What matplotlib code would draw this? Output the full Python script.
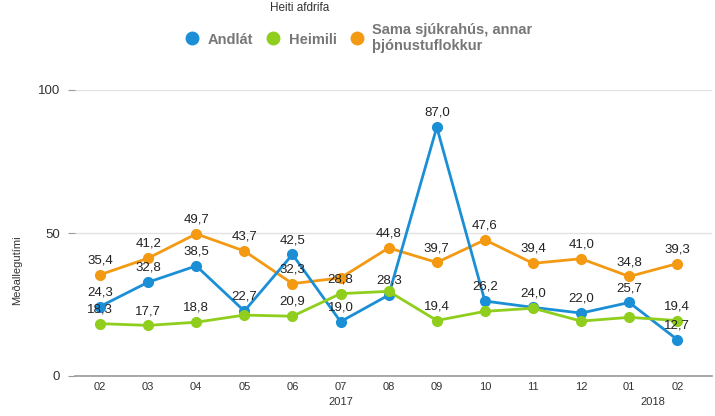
import matplotlib
matplotlib.use("Agg")
import matplotlib.pyplot as plt
from matplotlib.lines import Line2D

plt.rcParams['font.family'] = ['Liberation Sans', 'DejaVu Sans']

months = ["02", "03", "04", "05", "06", "07", "08", "09", "10", "11", "12", "01", "02"]
andlat = [24.3, 32.8, 38.5, 22.7, 42.5, 19.0, 28.3, 87.0, 26.2, 24.0, 22.0, 25.7, 12.7]
heimili = [18.3, 17.7, 18.8, 21.3, 20.9, 28.8, 29.6, 19.4, 22.6, 23.7, 19.2, 20.5, 19.4]
sama = [35.4, 41.2, 49.7, 43.7, 32.3, 34.3, 44.8, 39.7, 47.6, 39.4, 41.0, 34.8, 39.3]
andlat_lbl = [True] * 13
heimili_lbl = [True, True, True, False, True, True, False, True, False, False, False, False, True]
sama_lbl = [True, True, True, True, True, False, True, True, True, True, True, True, True]
series_names = ["Andlát", "Heimili", "Sama sjúkrahús, annar\nþjónustuflokkur"]
colors = ["#1b8fd6", "#8fce1c", "#f39a12"]
years = [("2017", 5), ("2018", 12)]

fig = plt.figure(figsize=(7.15, 4.16), dpi=100)
ax = fig.add_axes([75/715, 1-376/416, (712-75)/715, (376-90)/416])
x = list(range(len(months)))

ax.set_ylim(0, 100)
ax.set_xlim(-0.52, 12.72)
for v in (50, 100):
    ax.axhline(v, color="#e2e2e2", lw=1, zorder=0)

order = [(sama, sama_lbl, colors[2]), (andlat, andlat_lbl, colors[0]), (heimili, heimili_lbl, colors[1])]
for vals, lbls, c in order:
    ax.plot(x, vals, color=c, lw=2, marker="o", markersize=7, clip_on=False, zorder=3)
    for xi, v, show in zip(x, vals, lbls):
        if show:
            ax.annotate(f"{v:.1f}".replace(".", ","), (xi, v), xytext=(0, 6),
                        textcoords="offset points", ha="center", va="bottom",
                        fontsize=9.5, color="#222222", zorder=5)

for s in ("top", "right", "left"):
    ax.spines[s].set_visible(False)
ax.spines["bottom"].set_color("#999999")
ax.spines["bottom"].set_linewidth(1.2)

ax.set_yticks([0, 50, 100])
ax.set_yticklabels(["0", "50", "100"], fontsize=9.5, color="#333333")
ax.tick_params(axis="y", length=5, color="#999999", pad=6)
ax.set_xticks(x)
ax.set_xticklabels(months, fontsize=8, color="#333333")
ax.tick_params(axis="x", length=0, pad=4)
for label, idx in years:
    xpos = idx if label == "2017" else idx - 0.5
    ax.text(xpos, -0.075, label, transform=ax.get_xaxis_transform(), ha="center", va="top",
            fontsize=8, color="#333333")

fig.text(17/715, 1-270/416, "Meðallegutími", rotation=90, ha="center", va="center", fontsize=8, color="#333333")
fig.text(300/715, 1-8/416, "Heiti afdrifa", ha="center", va="center", fontsize=8.5, color="#333333")

handles = [Line2D([], [], color=c, marker="o", ls="none", markersize=9) for c in colors]
leg = fig.legend(handles, series_names, loc="center", bbox_to_anchor=(355/715, 1-38/416), ncol=3,
                 frameon=False, handletextpad=0.05, columnspacing=0.4,
                 prop={"weight": "bold", "size": 10.5})
for t in leg.get_texts():
    t.set_color("#777777")

fig.savefig("out.png", dpi=100)
